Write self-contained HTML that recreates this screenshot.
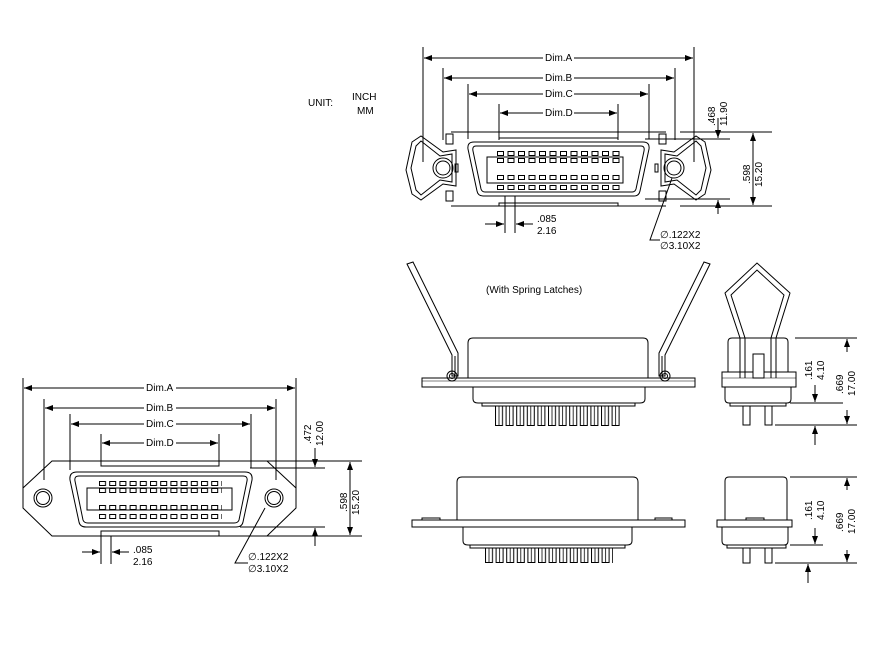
<!DOCTYPE html>
<html><head><meta charset="utf-8"><style>
html,body{margin:0;padding:0;background:#fff}
svg{display:block}
text{font-family:"Liberation Sans",sans-serif;font-size:10px;fill:#000}
</style></head><body>
<svg width="872" height="658" viewBox="0 0 872 658" xmlns="http://www.w3.org/2000/svg">
<defs>
<marker id="ar" markerWidth="8" markerHeight="6" refX="8" refY="3" orient="auto" markerUnits="userSpaceOnUse"><path d="M0,0 L8,3 L0,6 z" fill="#000"/></marker>
<pattern id="t1" x="497" y="151" width="10.5" height="5" patternUnits="userSpaceOnUse"><rect x="0.5" y="0.5" width="6" height="4" fill="#fff" stroke="#000" stroke-width="1"/></pattern>
<pattern id="t2" x="497" y="158" width="10.5" height="5" patternUnits="userSpaceOnUse"><rect x="0.5" y="0.5" width="6" height="4" fill="#fff" stroke="#000" stroke-width="1"/></pattern>
<pattern id="t3" x="497" y="175" width="10.5" height="5" patternUnits="userSpaceOnUse"><rect x="0.5" y="0.5" width="6" height="4" fill="#fff" stroke="#000" stroke-width="1"/></pattern>
<pattern id="t4" x="497" y="185" width="10.5" height="5" patternUnits="userSpaceOnUse"><rect x="0.5" y="0.5" width="6" height="4" fill="#fff" stroke="#000" stroke-width="1"/></pattern>
<pattern id="b1" x="99" y="481" width="10.2" height="5" patternUnits="userSpaceOnUse"><rect x="0.5" y="0.5" width="6" height="4" fill="#fff" stroke="#000" stroke-width="1"/></pattern>
<pattern id="b2" x="99" y="488" width="10.2" height="5" patternUnits="userSpaceOnUse"><rect x="0.5" y="0.5" width="6" height="4" fill="#fff" stroke="#000" stroke-width="1"/></pattern>
<pattern id="b3" x="99" y="505" width="10.2" height="5" patternUnits="userSpaceOnUse"><rect x="0.5" y="0.5" width="6" height="4" fill="#fff" stroke="#000" stroke-width="1"/></pattern>
<pattern id="b4" x="99" y="514" width="10.2" height="5" patternUnits="userSpaceOnUse"><rect x="0.5" y="0.5" width="6" height="4" fill="#fff" stroke="#000" stroke-width="1"/></pattern>
<pattern id="p3" x="495" y="406" width="10.6" height="20" patternUnits="userSpaceOnUse"><rect x="0.5" y="0" width="7" height="19.5" fill="#fff" stroke="#000" stroke-width="1"/><line x1="4" y1="0" x2="4" y2="20" stroke="#000" stroke-width="0.8"/></pattern>
<pattern id="p4" x="485" y="548" width="10.6" height="15" patternUnits="userSpaceOnUse"><rect x="0.5" y="0" width="7" height="14.5" fill="#fff" stroke="#000" stroke-width="1"/><line x1="4" y1="0" x2="4" y2="15" stroke="#000" stroke-width="0.8"/></pattern>
</defs>

<text x="308" y="106" font-size="12">UNIT:</text>
<text x="352" y="100" font-size="12">INCH</text>
<text x="357" y="114" font-size="12">MM</text>

<!-- ===== TOP VIEW ===== -->
<g fill="none" stroke="#000" stroke-width="1">
<line x1="423" y1="47" x2="423" y2="162"/><line x1="694" y1="47" x2="694" y2="162"/>
<line x1="443" y1="68" x2="443" y2="140"/><line x1="675" y1="68" x2="675" y2="140"/>
<line x1="468" y1="84" x2="468" y2="139"/><line x1="649" y1="84" x2="649" y2="139"/>
<line x1="499" y1="104" x2="499" y2="140"/><line x1="618" y1="104" x2="618" y2="140"/>
<line x1="543" y1="58" x2="424" y2="58" marker-end="url(#ar)"/><line x1="574" y1="58" x2="693" y2="58" marker-end="url(#ar)"/>
<line x1="543" y1="78" x2="444" y2="78" marker-end="url(#ar)"/><line x1="574" y1="78" x2="674" y2="78" marker-end="url(#ar)"/>
<line x1="543" y1="94" x2="469" y2="94" marker-end="url(#ar)"/><line x1="574" y1="94" x2="648" y2="94" marker-end="url(#ar)"/>
<line x1="543" y1="113" x2="500" y2="113" marker-end="url(#ar)"/><line x1="574" y1="113" x2="617" y2="113" marker-end="url(#ar)"/>
<path d="M451,132 L666,132 M451,206 L666,206"/>
<path d="M499,132 L499,138 L618,138 L618,132 M499,138 L618,138"/>
<path d="M499,206 L499,203 L618,203 L618,206"/>
<path d="M474,142 L643,142 Q650,142 649,149 L640,191 Q639,196 634,196 L483,196 Q478,196 477,191 L468,149 Q467,142 474,142 Z"/>
<path d="M476,146 L641,146 Q645,146 644,151 L636,189 Q635,192 632,192 L485,192 Q482,192 481,189 L473,151 Q472,146 476,146 Z"/>
<rect x="487" y="157" width="136" height="26"/>
</g>
<rect x="497" y="151" width="126" height="5" fill="url(#t1)"/>
<rect x="497" y="158" width="126" height="5" fill="url(#t2)"/>
<rect x="497" y="175" width="126" height="5" fill="url(#t3)"/>
<rect x="497" y="185" width="126" height="5" fill="url(#t4)"/>
<g fill="none" stroke="#000" stroke-width="1">
<!-- left latch -->
<rect x="446" y="134" width="7" height="10"/><rect x="446" y="191" width="7" height="10"/>
<rect x="455" y="164" width="3" height="8"/>
<path d="M412,142 L421,136 L443,152 L456,150 L456,186 L443,184 L421,200 L412,194 L406,170 Z"/>
<path d="M416,146 L421,141 L440,156 L452,154 L452,182 L440,180 L421,195 L416,190 L411,168 Z"/>
<circle cx="443" cy="168" r="10"/><circle cx="443" cy="168" r="7"/>
<!-- right latch -->
<rect x="659" y="134" width="7" height="10"/><rect x="659" y="191" width="7" height="10"/>
<rect x="655" y="164" width="3" height="8"/>
<path d="M705,142 L696,136 L674,152 L661,150 L661,186 L674,184 L696,200 L705,194 L711,170 Z"/>
<path d="M701,146 L696,141 L677,156 L665,154 L665,182 L677,180 L696,195 L701,190 L706,168 Z"/>
<circle cx="674" cy="168" r="10"/><circle cx="674" cy="168" r="7"/>
<line x1="680" y1="132" x2="772" y2="132"/><line x1="680" y1="206" x2="772" y2="206"/>
<line x1="645" y1="139" x2="730" y2="139"/><line x1="645" y1="199" x2="730" y2="199"/>
<line x1="753" y1="169" x2="753" y2="133" marker-end="url(#ar)"/><line x1="753" y1="169" x2="753" y2="205" marker-end="url(#ar)"/>
<line x1="718" y1="118" x2="718" y2="138" marker-end="url(#ar)"/><line x1="718" y1="214" x2="718" y2="200" marker-end="url(#ar)"/>
<line x1="505" y1="196" x2="505" y2="233"/><line x1="515" y1="196" x2="515" y2="233"/>
<line x1="485" y1="224" x2="504" y2="224" marker-end="url(#ar)"/><line x1="533" y1="224" x2="516" y2="224" marker-end="url(#ar)"/>
<polyline points="672,178 650,240 660,240"/>
</g>
<text x="545" y="61" font-size="10">Dim.A</text>
<text x="545" y="81" font-size="10">Dim.B</text>
<text x="545" y="97" font-size="10">Dim.C</text>
<text x="545" y="116" font-size="10">Dim.D</text>
<text transform="translate(715,126) rotate(-90)" font-size="10">.468</text>
<text transform="translate(727,126) rotate(-90)" font-size="10">11.90</text>
<text transform="translate(750,184) rotate(-90)" font-size="10">.598</text>
<text transform="translate(762,187) rotate(-90)" font-size="10">15.20</text>
<text x="537" y="222" font-size="10">.085</text>
<text x="537" y="234" font-size="10">2.16</text>
<text x="660" y="238" font-size="10">∅.122X2</text>
<text x="660" y="249" font-size="10">∅3.10X2</text>

<!-- ===== BOTTOM-LEFT VIEW ===== -->
<g fill="none" stroke="#000" stroke-width="1">
<line x1="23" y1="378" x2="23" y2="490"/><line x1="296" y1="378" x2="296" y2="490"/>
<line x1="44" y1="399" x2="44" y2="480"/><line x1="276" y1="399" x2="276" y2="480"/>
<line x1="70" y1="414" x2="70" y2="470"/><line x1="251" y1="414" x2="251" y2="468"/>
<line x1="101" y1="434" x2="101" y2="466"/><line x1="219" y1="434" x2="219" y2="466"/>
<line x1="144" y1="388" x2="24" y2="388" marker-end="url(#ar)"/><line x1="176" y1="388" x2="295" y2="388" marker-end="url(#ar)"/>
<line x1="144" y1="408" x2="45" y2="408" marker-end="url(#ar)"/><line x1="176" y1="408" x2="275" y2="408" marker-end="url(#ar)"/>
<line x1="144" y1="424" x2="71" y2="424" marker-end="url(#ar)"/><line x1="176" y1="424" x2="250" y2="424" marker-end="url(#ar)"/>
<line x1="144" y1="443" x2="102" y2="443" marker-end="url(#ar)"/><line x1="176" y1="443" x2="218" y2="443" marker-end="url(#ar)"/>
<polygon points="52,461 267,461 296,488 296,508 267,536 52,536 23,508 23,488"/>
<path d="M101,461 L101,466 L219,466 L219,461 M101,536 L101,531 L219,531 L219,536"/>
<circle cx="43" cy="498" r="9"/><circle cx="43" cy="498" r="6.5"/>
<circle cx="274" cy="498" r="9"/><circle cx="274" cy="498" r="6.5"/>
<path d="M77,472 L245,472 Q253,472 252,480 L243,522 Q242,527 236,527 L86,527 Q80,527 79,522 L70,480 Q69,472 77,472 Z"/>
<path d="M79,476 L243,476 Q248,476 247,481 L239,520 Q238,523 234,523 L88,523 Q84,523 83,520 L75,481 Q74,476 79,476 Z"/>
<rect x="87" y="488" width="145" height="22"/>
</g>
<rect x="99" y="481" width="123" height="5" fill="url(#b1)"/>
<rect x="99" y="488" width="123" height="5" fill="url(#b2)"/>
<rect x="99" y="505" width="123" height="5" fill="url(#b3)"/>
<rect x="99" y="514" width="123" height="5" fill="url(#b4)"/>
<g fill="none" stroke="#000" stroke-width="1">
<line x1="267" y1="461" x2="362" y2="461"/><line x1="267" y1="536" x2="362" y2="536"/>
<line x1="250" y1="468" x2="325" y2="468"/><line x1="240" y1="527" x2="325" y2="527"/>
<line x1="350" y1="498" x2="350" y2="462" marker-end="url(#ar)"/><line x1="350" y1="498" x2="350" y2="535" marker-end="url(#ar)"/>
<line x1="315" y1="448" x2="315" y2="467" marker-end="url(#ar)"/><line x1="315" y1="546" x2="315" y2="528" marker-end="url(#ar)"/>
<line x1="101" y1="536" x2="101" y2="564"/><line x1="111" y1="536" x2="111" y2="564"/>
<line x1="82" y1="552" x2="100" y2="552" marker-end="url(#ar)"/><line x1="129" y1="552" x2="112" y2="552" marker-end="url(#ar)"/>
<polyline points="265,508 235,563 248,563"/>
</g>
<text x="146" y="391" font-size="10">Dim.A</text>
<text x="146" y="411" font-size="10">Dim.B</text>
<text x="146" y="427" font-size="10">Dim.C</text>
<text x="146" y="446" font-size="10">Dim.D</text>
<text transform="translate(311,444) rotate(-90)" font-size="10">.472</text>
<text transform="translate(323,446) rotate(-90)" font-size="10">12.00</text>
<text transform="translate(347,512) rotate(-90)" font-size="10">.598</text>
<text transform="translate(359,515) rotate(-90)" font-size="10">15.20</text>
<text x="133" y="553" font-size="10">.085</text>
<text x="133" y="565" font-size="10">2.16</text>
<text x="248" y="560" font-size="10">∅.122X2</text>
<text x="248" y="572" font-size="10">∅3.10X2</text>

<!-- ===== SIDE VIEW WITH LATCHES ===== -->
<text x="486" y="293" font-size="12">(With Spring Latches)</text>
<g fill="none" stroke="#000" stroke-width="1">
<path d="M473,338 L643,338 Q648,338 648,343 L648,378 L468,378 L468,343 Q468,338 473,338 Z"/>
<rect x="422" y="378" width="273" height="9"/>
<line x1="422" y1="381" x2="695" y2="381" stroke-width="0.6"/>
<path d="M473,387 L473,399 Q473,403 478,403 L640,403 Q645,403 645,399 L645,387"/>
<rect x="482" y="403" width="153" height="3"/>
<path d="M407,264 L413,262 L458,353 L458,376 L452,376 L452,355 Z"/>
<line x1="455" y1="356" x2="455" y2="376"/>
<circle cx="452" cy="376" r="5"/><circle cx="452" cy="376" r="2.5"/>
<path d="M710,264 L704,262 L659,353 L659,376 L665,376 L665,355 Z"/>
<line x1="662" y1="356" x2="662" y2="376"/>
<circle cx="665" cy="376" r="5"/><circle cx="665" cy="376" r="2.5"/>
</g>
<rect x="495" y="406" width="127" height="20" fill="url(#p3)"/>

<g fill="none" stroke="#000" stroke-width="1">
<path d="M732,338 L784,338 Q788,338 788,342 L788,372 L728,372 L728,342 Q728,338 732,338 Z" fill="#fff"/>
<rect x="722" y="372" width="74" height="15" fill="#fff"/>
<line x1="722" y1="378" x2="796" y2="378" stroke-width="0.6"/>
<path d="M725,387 L725,399 Q725,403 729,403 L787,403 Q791,403 791,399 L791,387"/>
<rect x="730" y="403" width="56" height="3"/>
<path d="M743,406 L743,425 L750,425 L750,406 M765,406 L765,425 L772,425 L772,406"/>
<rect x="753" y="354" width="11" height="24" fill="#fff"/>
<path d="M740,378 L740,338 L725,293 L757,263 L790,293 L776,338 L776,378"/>
<path d="M745,378 L745,338 L731,295 L757,270 L784,295 L771,338 L771,378"/>
<line x1="795" y1="338" x2="857" y2="338"/><line x1="790" y1="403" x2="843" y2="403"/>
<line x1="775" y1="425" x2="857" y2="425"/>
<line x1="815" y1="385" x2="815" y2="402" marker-end="url(#ar)"/><line x1="815" y1="445" x2="815" y2="426" marker-end="url(#ar)"/>
<line x1="847" y1="352" x2="847" y2="339" marker-end="url(#ar)"/><line x1="847" y1="410" x2="847" y2="424" marker-end="url(#ar)"/>
</g>
<text transform="translate(812,380) rotate(-90)" font-size="10">.161</text>
<text transform="translate(824,380) rotate(-90)" font-size="10">4.10</text>
<text transform="translate(843,394) rotate(-90)" font-size="10">.669</text>
<text transform="translate(855,396) rotate(-90)" font-size="10">17.00</text>

<!-- ===== BOTTOM SIDE VIEW ===== -->
<g fill="none" stroke="#000" stroke-width="1">
<path d="M462,477 L633,477 Q638,477 638,482 L638,520 L457,520 L457,482 Q457,477 462,477 Z"/>
<rect x="412" y="520" width="273" height="7"/>
<rect x="422" y="518" width="18" height="2"/><rect x="655" y="518" width="17" height="2"/>
<path d="M463,527 L463,541 Q463,545 468,545 L627,545 Q632,545 632,541 L632,527"/>
<rect x="470" y="545" width="155" height="3"/>
<path d="M729,477 L783,477 Q787,477 787,481 L787,520 L725,520 L725,481 Q725,477 729,477 Z"/>
<rect x="717" y="520" width="75" height="7"/>
<rect x="746" y="518" width="18" height="2"/>
<path d="M722,527 L722,541 Q722,545 726,545 L784,545 Q788,545 788,541 L788,527"/>
<rect x="727" y="545" width="59" height="3"/>
<path d="M743,548 L743,563 L750,563 L750,548 M765,548 L765,563 L772,563 L772,548"/>
<line x1="790" y1="477" x2="857" y2="477"/><line x1="790" y1="545" x2="823" y2="545"/>
<line x1="775" y1="563" x2="857" y2="563"/>
<line x1="815" y1="528" x2="815" y2="544" marker-end="url(#ar)"/>
<line x1="847" y1="490" x2="847" y2="478" marker-end="url(#ar)"/><line x1="847" y1="550" x2="847" y2="562" marker-end="url(#ar)"/>
<line x1="808" y1="583" x2="808" y2="564" marker-end="url(#ar)"/>
</g>
<rect x="485" y="548" width="128" height="15" fill="url(#p4)"/>
<text transform="translate(812,520) rotate(-90)" font-size="10">.161</text>
<text transform="translate(824,520) rotate(-90)" font-size="10">4.10</text>
<text transform="translate(843,532) rotate(-90)" font-size="10">.669</text>
<text transform="translate(855,534) rotate(-90)" font-size="10">17.00</text>
</svg>
</body></html>
